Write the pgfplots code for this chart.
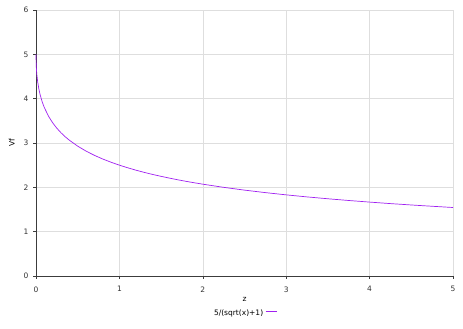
\documentclass[border=0pt]{standalone}
\usepackage{pgfplots}
\pgfplotsset{compat=1.18}
\usepackage{fontspec}
\setmainfont{DejaVu Sans}
\definecolor{curve}{RGB}{160,32,240}
\definecolor{gridc}{RGB}{222,222,222}
\definecolor{axc}{RGB}{60,60,60}
\begin{document}
\begin{tikzpicture}[x=1pt,y=1pt]
\begin{axis}[
  at={(36pt,53pt)}, anchor=south west,
  scale only axis, width=417pt, height=266pt,
  xmin=0, xmax=5, ymin=0, ymax=6,
  xtick={0,1,2,3,4,5}, ytick={0,1,2,3,4,5,6},
  axis x line=bottom, axis y line=left,
  axis line style={axc, -, line width=0.8pt},
  tick style={axc, line width=0.6pt},
  tick align=outside, major tick length=3pt,
  grid=major, major grid style={gridc, line width=0.6pt},
  ticklabel style={font=\fontsize{7.5}{9}\selectfont, text=black!80},
  xticklabel style={yshift=-4pt},
  yticklabel style={xshift=-1pt},
  /pgf/number format/assume math mode=true,
  xlabel={z}, ylabel={Vf},
  label style={font=\fontsize{7.5}{9}\selectfont},
  xlabel style={at={(axis description cs:0.5,-0.09)}, anchor=center},
  ylabel style={at={(axis description cs:-0.058,0.5)}, anchor=center},
  legend style={draw=none, fill=none, font=\fontsize{7.5}{9}\selectfont,
    at={(axis description cs:0.5,-0.113)}, anchor=north},
  legend plot pos=right,
  legend image code/.code={\draw[curve, line width=0.8pt] (0pt,2.25pt) -- (11pt,2.25pt);},
  clip=false,
]
\addplot[curve, line width=0.7pt] coordinates {
(0,5.000) (0.002,4.787) (0.005,4.670) (0.01,4.545) (0.02,4.380) (0.035,4.210)
(0.05,4.086) (0.075,3.924) (0.1,3.799) (0.15,3.604) (0.2,3.455) (0.25,3.333)
(0.3,3.230) (0.35,3.141) (0.4,3.063) (0.5,2.929) (0.6,2.817) (0.7,2.722)
(0.8,2.639) (0.9,2.566) (1.0,2.500) (1.1,2.441) (1.2,2.386) (1.3,2.336)
(1.4,2.290) (1.5,2.248) (1.6,2.208) (1.7,2.170) (1.8,2.135) (1.9,2.102)
(2.0,2.071) (2.25,2.000) (2.5,1.937) (2.75,1.881) (3.0,1.830) (3.25,1.784)
(3.5,1.742) (3.75,1.703) (4.0,1.667) (4.25,1.633) (4.5,1.602) (4.75,1.573)
(5.0,1.545)
};
\addlegendentry{5/(sqrt(x)+1)}
\end{axis}
\pgfresetboundingbox
\path (0,0) rectangle (463pt,329pt);
\end{tikzpicture}
\end{document}
